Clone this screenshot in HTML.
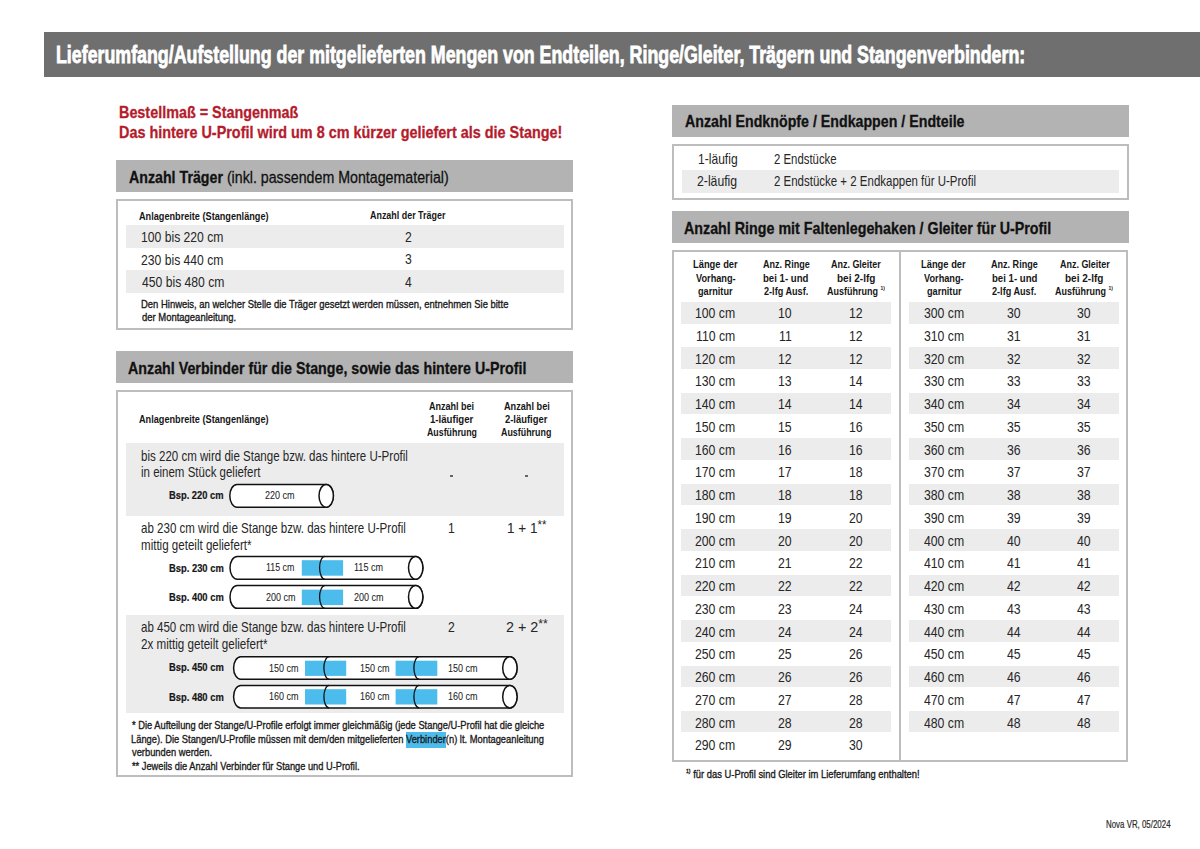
<!DOCTYPE html>
<html lang="de">
<head>
<meta charset="utf-8">
<title>Lieferumfang</title>
<style>
html,body{margin:0;padding:0;background:#ffffff;}
body{width:1200px;height:849px;position:relative;overflow:hidden;font-family:"Liberation Sans",sans-serif;}
.r{position:absolute;}
.b{position:absolute;box-sizing:border-box;border:2px solid #bdbdbd;}
.t{position:absolute;white-space:nowrap;transform-origin:0 0;}
svg{position:absolute;left:0;top:0;}
</style>
</head>
<body>
<div class="r" style="left:44.00px;top:32.00px;width:1156.00px;height:45.00px;background:#6f6f6f"></div>
<div class="r" style="left:116.00px;top:160.00px;width:456.50px;height:32.00px;background:#b3b3b3"></div>
<div class="b" style="left:115.50px;top:198.50px;width:457.00px;height:131.00px"></div>
<div class="r" style="left:126.00px;top:225.00px;width:438.00px;height:23.00px;background:#ececec"></div>
<div class="r" style="left:126.00px;top:270.30px;width:438.00px;height:22.70px;background:#ececec"></div>
<div class="r" style="left:116.00px;top:351.30px;width:456.50px;height:31.70px;background:#b3b3b3"></div>
<div class="b" style="left:115.50px;top:389.50px;width:457.00px;height:387.00px"></div>
<div class="r" style="left:125.50px;top:443.00px;width:438.20px;height:72.60px;background:#ececec"></div>
<div class="r" style="left:125.50px;top:615.00px;width:438.20px;height:98.30px;background:#ececec"></div>
<div class="r" style="left:406.00px;top:732.40px;width:39.60px;height:15.20px;background:#4bbcec"></div>
<div class="r" style="left:449.80px;top:475.40px;width:3.50px;height:1.40px;background:#666"></div>
<div class="r" style="left:524.60px;top:475.40px;width:3.50px;height:1.40px;background:#666"></div>
<div class="r" style="left:672.00px;top:104.50px;width:456.70px;height:32.10px;background:#b3b3b3"></div>
<div class="b" style="left:672.00px;top:143.50px;width:456.70px;height:56.20px"></div>
<div class="r" style="left:682.00px;top:170.00px;width:437.40px;height:22.50px;background:#ececec"></div>
<div class="r" style="left:672.00px;top:211.20px;width:456.50px;height:31.80px;background:#b3b3b3"></div>
<div class="b" style="left:672.00px;top:250.30px;width:456.30px;height:511.70px"></div>
<div class="r" style="left:899.00px;top:250.30px;width:2.00px;height:511.70px;background:#bdbdbd"></div>
<div class="r" style="left:680.60px;top:302.00px;width:210.00px;height:21.50px;background:#ececec"></div>
<div class="r" style="left:909.40px;top:302.00px;width:209.30px;height:21.50px;background:#ececec"></div>
<div class="r" style="left:680.60px;top:347.44px;width:210.00px;height:21.50px;background:#ececec"></div>
<div class="r" style="left:909.40px;top:347.44px;width:209.30px;height:21.50px;background:#ececec"></div>
<div class="r" style="left:680.60px;top:392.88px;width:210.00px;height:21.50px;background:#ececec"></div>
<div class="r" style="left:909.40px;top:392.88px;width:209.30px;height:21.50px;background:#ececec"></div>
<div class="r" style="left:680.60px;top:438.32px;width:210.00px;height:21.50px;background:#ececec"></div>
<div class="r" style="left:909.40px;top:438.32px;width:209.30px;height:21.50px;background:#ececec"></div>
<div class="r" style="left:680.60px;top:483.76px;width:210.00px;height:21.50px;background:#ececec"></div>
<div class="r" style="left:909.40px;top:483.76px;width:209.30px;height:21.50px;background:#ececec"></div>
<div class="r" style="left:680.60px;top:529.20px;width:210.00px;height:21.50px;background:#ececec"></div>
<div class="r" style="left:909.40px;top:529.20px;width:209.30px;height:21.50px;background:#ececec"></div>
<div class="r" style="left:680.60px;top:574.64px;width:210.00px;height:21.50px;background:#ececec"></div>
<div class="r" style="left:909.40px;top:574.64px;width:209.30px;height:21.50px;background:#ececec"></div>
<div class="r" style="left:680.60px;top:620.08px;width:210.00px;height:21.50px;background:#ececec"></div>
<div class="r" style="left:909.40px;top:620.08px;width:209.30px;height:21.50px;background:#ececec"></div>
<div class="r" style="left:680.60px;top:665.52px;width:210.00px;height:21.50px;background:#ececec"></div>
<div class="r" style="left:909.40px;top:665.52px;width:209.30px;height:21.50px;background:#ececec"></div>
<div class="r" style="left:680.60px;top:710.96px;width:210.00px;height:21.50px;background:#ececec"></div>
<div class="r" style="left:909.40px;top:710.96px;width:209.30px;height:21.50px;background:#ececec"></div>
<svg width="1200" height="849" viewBox="0 0 1200 849"><path d="M237.00,484.40 H326.20 A7.20,11.40 0 0 1 326.20,507.20 H237.00 A7.20,11.40 0 0 1 237.00,484.40 Z" fill="#fff" stroke="#111" stroke-width="1.50"/><ellipse cx="326.20" cy="495.80" rx="7.20" ry="11.40" fill="#fff" stroke="#111" stroke-width="1.50"/><path d="M237.20,556.40 H415.70 A7.20,11.40 0 0 1 415.70,579.20 H237.20 A7.20,11.40 0 0 1 237.20,556.40 Z" fill="#fff" stroke="#111" stroke-width="1.50"/><rect x="301.80" y="560.20" width="41.30" height="15.50" fill="#4bbcec"/><path d="M324.80,556.40 A5.20,11.40 0 0 0 324.80,579.20" fill="none" stroke="#111" stroke-width="1.30"/><ellipse cx="415.70" cy="567.80" rx="7.20" ry="11.40" fill="#fff" stroke="#111" stroke-width="1.50"/><path d="M237.20,585.60 H415.70 A7.20,11.35 0 0 1 415.70,608.30 H237.20 A7.20,11.35 0 0 1 237.20,585.60 Z" fill="#fff" stroke="#111" stroke-width="1.50"/><rect x="301.80" y="589.60" width="41.30" height="15.50" fill="#4bbcec"/><path d="M324.80,585.60 A5.20,11.35 0 0 0 324.80,608.30" fill="none" stroke="#111" stroke-width="1.30"/><ellipse cx="415.70" cy="596.95" rx="7.20" ry="11.35" fill="#fff" stroke="#111" stroke-width="1.50"/><path d="M240.80,656.70 H509.90 A7.20,11.25 0 0 1 509.90,679.20 H240.80 A7.20,11.25 0 0 1 240.80,656.70 Z" fill="#fff" stroke="#111" stroke-width="1.50"/><rect x="305.00" y="660.70" width="41.20" height="15.20" fill="#4bbcec"/><rect x="395.60" y="660.70" width="41.70" height="15.20" fill="#4bbcec"/><path d="M329.10,656.70 A5.20,11.25 0 0 0 329.10,679.20" fill="none" stroke="#111" stroke-width="1.30"/><path d="M419.10,656.70 A5.20,11.25 0 0 0 419.10,679.20" fill="none" stroke="#111" stroke-width="1.30"/><ellipse cx="509.90" cy="667.95" rx="7.20" ry="11.25" fill="#fff" stroke="#111" stroke-width="1.50"/><path d="M240.80,685.40 H509.90 A7.20,11.25 0 0 1 509.90,707.90 H240.80 A7.20,11.25 0 0 1 240.80,685.40 Z" fill="#fff" stroke="#111" stroke-width="1.50"/><rect x="305.00" y="689.20" width="41.20" height="15.30" fill="#4bbcec"/><rect x="395.60" y="689.20" width="41.70" height="15.30" fill="#4bbcec"/><path d="M329.10,685.40 A5.20,11.25 0 0 0 329.10,707.90" fill="none" stroke="#111" stroke-width="1.30"/><path d="M419.10,685.40 A5.20,11.25 0 0 0 419.10,707.90" fill="none" stroke="#111" stroke-width="1.30"/><ellipse cx="509.90" cy="696.65" rx="7.20" ry="11.25" fill="#fff" stroke="#111" stroke-width="1.50"/></svg>
<div class="t" style="left:56.27px;top:42.80px;color:#ffffff;font-size:24.50px;font-weight:700;line-height:24.50px;-webkit-text-stroke:0.80px #ffffff;transform:scaleX(0.7265)">Lieferumfang/Aufstellung der mitgelieferten Mengen von Endteilen, Ringe/Gleiter, Trägern und Stangenverbindern:</div>
<div class="t" style="left:119.45px;top:104.75px;color:#b41c2d;font-size:16.90px;font-weight:700;line-height:16.90px;-webkit-text-stroke:0.30px #b41c2d;transform:scaleX(0.8510)">Bestellmaß = Stangenmaß</div>
<div class="t" style="left:119.45px;top:125.40px;color:#b41c2d;font-size:16.90px;font-weight:700;line-height:16.90px;-webkit-text-stroke:0.30px #b41c2d;transform:scaleX(0.8527)">Das hintere U-Profil wird um 8 cm kürzer geliefert als die Stange!</div>
<div class="t" style="left:128.60px;top:170.00px;color:#111111;font-size:16.90px;font-weight:700;line-height:16.90px;-webkit-text-stroke:0.30px #111111;transform:scaleX(0.8409)">Anzahl Träger<span style="font-weight:400"> (inkl. passendem Montagematerial)</span></div>
<div class="t" style="left:139.20px;top:210.50px;color:#161616;font-size:11.20px;font-weight:700;line-height:11.20px;transform:scaleX(0.8171)">Anlagenbreite (Stangenlänge)</div>
<div class="t" style="left:370.10px;top:210.20px;color:#161616;font-size:11.20px;font-weight:700;line-height:11.20px;transform:scaleX(0.7979)">Anzahl der Träger</div>
<div class="t" style="left:141.16px;top:229.70px;color:#262626;font-size:14.50px;font-weight:400;line-height:14.50px;transform:scaleX(0.8385)">100 bis 220 cm</div>
<div class="t" style="left:141.16px;top:252.60px;color:#262626;font-size:14.50px;font-weight:400;line-height:14.50px;transform:scaleX(0.8385)">230 bis 440 cm</div>
<div class="t" style="left:142.00px;top:275.40px;color:#262626;font-size:14.50px;font-weight:400;line-height:14.50px;transform:scaleX(0.8385)">450 bis 480 cm</div>
<div class="t" style="left:404.85px;top:229.60px;color:#262626;font-size:14.50px;font-weight:400;line-height:14.50px;transform:scaleX(0.8385)">2</div>
<div class="t" style="left:404.85px;top:252.40px;color:#262626;font-size:14.50px;font-weight:400;line-height:14.50px;transform:scaleX(0.8385)">3</div>
<div class="t" style="left:404.85px;top:275.20px;color:#262626;font-size:14.50px;font-weight:400;line-height:14.50px;transform:scaleX(0.8385)">4</div>
<div class="t" style="left:141.16px;top:298.50px;color:#1a1a1a;font-size:11.30px;font-weight:400;line-height:11.30px;-webkit-text-stroke:0.35px #1a1a1a;transform:scaleX(0.8370)">Den Hinweis, an welcher Stelle die Träger gesetzt werden müssen, entnehmen Sie bitte</div>
<div class="t" style="left:142.00px;top:311.80px;color:#1a1a1a;font-size:11.30px;font-weight:400;line-height:11.30px;-webkit-text-stroke:0.35px #1a1a1a;transform:scaleX(0.8375)">der Montageanleitung.</div>
<div class="t" style="left:128.30px;top:360.60px;color:#111111;font-size:16.90px;font-weight:700;line-height:16.90px;-webkit-text-stroke:0.30px #111111;transform:scaleX(0.8439)">Anzahl Verbinder für die Stange, sowie das hintere U-Profil</div>
<div class="t" style="left:139.30px;top:414.40px;color:#161616;font-size:11.20px;font-weight:700;line-height:11.20px;transform:scaleX(0.8171)">Anlagenbreite (Stangenlänge)</div>
<div class="t" style="left:429.40px;top:400.75px;color:#161616;font-size:11.20px;font-weight:700;line-height:11.20px;transform:scaleX(0.8064)">Anzahl bei</div>
<div class="t" style="left:429.74px;top:414.10px;color:#161616;font-size:11.20px;font-weight:700;line-height:11.20px;transform:scaleX(0.8602)">1-läufiger</div>
<div class="t" style="left:426.90px;top:427.25px;color:#161616;font-size:11.20px;font-weight:700;line-height:11.20px;transform:scaleX(0.7889)">Ausführung</div>
<div class="t" style="left:503.50px;top:400.75px;color:#161616;font-size:11.20px;font-weight:700;line-height:11.20px;transform:scaleX(0.8182)">Anzahl bei</div>
<div class="t" style="left:505.00px;top:414.10px;color:#161616;font-size:11.20px;font-weight:700;line-height:11.20px;transform:scaleX(0.8400)">2-läufiger</div>
<div class="t" style="left:501.00px;top:427.25px;color:#161616;font-size:11.20px;font-weight:700;line-height:11.20px;transform:scaleX(0.7937)">Ausführung</div>
<div class="t" style="left:140.80px;top:448.50px;color:#262626;font-size:14.50px;font-weight:400;line-height:14.50px;transform:scaleX(0.7961)">bis 220 cm wird die Stange bzw. das hintere U-Profil</div>
<div class="t" style="left:140.81px;top:465.30px;color:#262626;font-size:14.50px;font-weight:400;line-height:14.50px;transform:scaleX(0.7927)">in einem Stück geliefert</div>
<div class="t" style="left:169.36px;top:490.30px;color:#161616;font-size:11.20px;font-weight:700;line-height:11.20px;-webkit-text-stroke:0.20px #161616;transform:scaleX(0.8359)">Bsp. 220 cm</div>
<div class="t" style="left:264.82px;top:490.80px;color:#222222;font-size:10.20px;font-weight:400;line-height:10.20px;-webkit-text-stroke:0.05px #222222;transform:scaleX(0.8844)">220 cm</div>
<div class="t" style="left:140.80px;top:521.20px;color:#262626;font-size:14.50px;font-weight:400;line-height:14.50px;transform:scaleX(0.7958)">ab 230 cm wird die Stange bzw. das hintere U-Profil</div>
<div class="t" style="left:140.80px;top:538.00px;color:#262626;font-size:14.50px;font-weight:400;line-height:14.50px;transform:scaleX(0.7971)">mittig geteilt geliefert*</div>
<div class="t" style="left:447.95px;top:520.80px;color:#262626;font-size:14.50px;font-weight:400;line-height:14.50px;transform:scaleX(0.8385)">1</div>
<div class="t" style="left:506.57px;top:520.80px;color:#262626;font-size:14.50px;font-weight:400;line-height:14.50px;transform:scaleX(0.9325)">1 + 1<span style="font-size:85%;position:relative;top:-4px">**</span></div>
<div class="t" style="left:169.41px;top:562.60px;color:#161616;font-size:11.20px;font-weight:700;line-height:11.20px;-webkit-text-stroke:0.20px #161616;transform:scaleX(0.8383)">Bsp. 230 cm</div>
<div class="t" style="left:266.03px;top:563.35px;color:#222222;font-size:10.20px;font-weight:400;line-height:10.20px;-webkit-text-stroke:0.05px #222222;transform:scaleX(0.8710)">115 cm</div>
<div class="t" style="left:353.91px;top:563.35px;color:#222222;font-size:10.20px;font-weight:400;line-height:10.20px;-webkit-text-stroke:0.05px #222222;transform:scaleX(0.8903)">115 cm</div>
<div class="t" style="left:169.41px;top:592.30px;color:#161616;font-size:11.20px;font-weight:700;line-height:11.20px;-webkit-text-stroke:0.20px #161616;transform:scaleX(0.8383)">Bsp. 400 cm</div>
<div class="t" style="left:265.62px;top:592.75px;color:#222222;font-size:10.20px;font-weight:400;line-height:10.20px;-webkit-text-stroke:0.05px #222222;transform:scaleX(0.8844)">200 cm</div>
<div class="t" style="left:353.72px;top:592.75px;color:#222222;font-size:10.20px;font-weight:400;line-height:10.20px;-webkit-text-stroke:0.05px #222222;transform:scaleX(0.8844)">200 cm</div>
<div class="t" style="left:140.90px;top:619.70px;color:#262626;font-size:14.50px;font-weight:400;line-height:14.50px;transform:scaleX(0.7955)">ab 450 cm wird die Stange bzw. das hintere U-Profil</div>
<div class="t" style="left:140.90px;top:637.30px;color:#262626;font-size:14.50px;font-weight:400;line-height:14.50px;transform:scaleX(0.8013)">2x mittig geteilt geliefert*</div>
<div class="t" style="left:448.15px;top:619.70px;color:#262626;font-size:14.50px;font-weight:400;line-height:14.50px;transform:scaleX(0.8385)">2</div>
<div class="t" style="left:506.01px;top:619.70px;color:#262626;font-size:14.50px;font-weight:400;line-height:14.50px;transform:scaleX(0.9875)">2 + 2<span style="font-size:85%;position:relative;top:-4px">**</span></div>
<div class="t" style="left:169.41px;top:662.20px;color:#161616;font-size:11.20px;font-weight:700;line-height:11.20px;-webkit-text-stroke:0.20px #161616;transform:scaleX(0.8383)">Bsp. 450 cm</div>
<div class="t" style="left:169.41px;top:692.30px;color:#161616;font-size:11.20px;font-weight:700;line-height:11.20px;-webkit-text-stroke:0.20px #161616;transform:scaleX(0.8383)">Bsp. 480 cm</div>
<div class="t" style="left:269.12px;top:663.60px;color:#222222;font-size:10.20px;font-weight:400;line-height:10.20px;-webkit-text-stroke:0.05px #222222;transform:scaleX(0.8844)">150 cm</div>
<div class="t" style="left:269.12px;top:692.30px;color:#222222;font-size:10.20px;font-weight:400;line-height:10.20px;-webkit-text-stroke:0.05px #222222;transform:scaleX(0.8844)">160 cm</div>
<div class="t" style="left:359.52px;top:663.60px;color:#222222;font-size:10.20px;font-weight:400;line-height:10.20px;-webkit-text-stroke:0.05px #222222;transform:scaleX(0.8844)">150 cm</div>
<div class="t" style="left:359.52px;top:692.30px;color:#222222;font-size:10.20px;font-weight:400;line-height:10.20px;-webkit-text-stroke:0.05px #222222;transform:scaleX(0.8844)">160 cm</div>
<div class="t" style="left:448.12px;top:663.60px;color:#222222;font-size:10.20px;font-weight:400;line-height:10.20px;-webkit-text-stroke:0.05px #222222;transform:scaleX(0.8844)">150 cm</div>
<div class="t" style="left:448.12px;top:692.30px;color:#222222;font-size:10.20px;font-weight:400;line-height:10.20px;-webkit-text-stroke:0.05px #222222;transform:scaleX(0.8844)">160 cm</div>
<div class="t" style="left:131.60px;top:720.00px;color:#1a1a1a;font-size:11.30px;font-weight:400;line-height:11.30px;-webkit-text-stroke:0.35px #1a1a1a;transform:scaleX(0.8248)">* Die Aufteilung der Stange/U-Profile erfolgt immer gleichmäßig (jede Stange/U-Profil hat die gleiche</div>
<div class="t" style="left:130.77px;top:733.60px;color:#1a1a1a;font-size:11.30px;font-weight:400;line-height:11.30px;-webkit-text-stroke:0.35px #1a1a1a;transform:scaleX(0.8261)">Länge). Die Stangen/U-Profile müssen mit dem/den mitgelieferten Verbinder(n) lt. Montageanleitung</div>
<div class="t" style="left:131.60px;top:747.00px;color:#1a1a1a;font-size:11.30px;font-weight:400;line-height:11.30px;-webkit-text-stroke:0.35px #1a1a1a;transform:scaleX(0.8271)">verbunden werden.</div>
<div class="t" style="left:131.60px;top:760.60px;color:#1a1a1a;font-size:11.30px;font-weight:400;line-height:11.30px;-webkit-text-stroke:0.35px #1a1a1a;transform:scaleX(0.8217)">** Jeweils die Anzahl Verbinder für Stange und U-Profil.</div>
<div class="t" style="left:684.70px;top:114.00px;color:#111111;font-size:16.90px;font-weight:700;line-height:16.90px;-webkit-text-stroke:0.30px #111111;transform:scaleX(0.8413)">Anzahl Endknöpfe / Endkappen / Endteile</div>
<div class="t" style="left:697.91px;top:152.25px;color:#262626;font-size:14.30px;font-weight:400;line-height:14.30px;transform:scaleX(0.8444)">1-läufig</div>
<div class="t" style="left:774.20px;top:152.25px;color:#262626;font-size:14.30px;font-weight:400;line-height:14.30px;transform:scaleX(0.7955)">2 Endstücke</div>
<div class="t" style="left:697.39px;top:174.25px;color:#262626;font-size:14.30px;font-weight:400;line-height:14.30px;transform:scaleX(0.8556)">2-läufig</div>
<div class="t" style="left:774.20px;top:174.25px;color:#262626;font-size:14.30px;font-weight:400;line-height:14.30px;transform:scaleX(0.8030)">2 Endstücke + 2 Endkappen für U-Profil</div>
<div class="t" style="left:684.40px;top:221.00px;color:#111111;font-size:16.90px;font-weight:700;line-height:16.90px;-webkit-text-stroke:0.30px #111111;transform:scaleX(0.8452)">Anzahl Ringe mit Faltenlegehaken / Gleiter für U-Profil</div>
<div class="t" style="left:692.91px;top:259.30px;color:#161616;font-size:11.20px;font-weight:700;line-height:11.20px;transform:scaleX(0.8356)">Länge der</div>
<div class="t" style="left:695.60px;top:272.50px;color:#161616;font-size:11.20px;font-weight:700;line-height:11.20px;transform:scaleX(0.8208)">Vorhang-</div>
<div class="t" style="left:698.48px;top:286.00px;color:#161616;font-size:11.20px;font-weight:700;line-height:11.20px;transform:scaleX(0.8171)">garnitur</div>
<div class="t" style="left:762.90px;top:259.30px;color:#161616;font-size:11.20px;font-weight:700;line-height:11.20px;transform:scaleX(0.8088)">Anz. Ringe</div>
<div class="t" style="left:763.14px;top:272.50px;color:#161616;font-size:11.20px;font-weight:700;line-height:11.20px;transform:scaleX(0.8588)">bei 1- und</div>
<div class="t" style="left:763.50px;top:286.00px;color:#161616;font-size:11.20px;font-weight:700;line-height:11.20px;transform:scaleX(0.8148)">2-lfg Ausf.</div>
<div class="t" style="left:831.40px;top:259.30px;color:#161616;font-size:11.20px;font-weight:700;line-height:11.20px;transform:scaleX(0.8000)">Anz. Gleiter</div>
<div class="t" style="left:836.90px;top:272.50px;color:#161616;font-size:11.20px;font-weight:700;line-height:11.20px;transform:scaleX(0.8951)">bei 2-lfg</div>
<div class="t" style="left:826.70px;top:286.00px;color:#161616;font-size:11.20px;font-weight:700;line-height:11.20px;transform:scaleX(0.8028)">Ausführung <span style="font-size:55%;position:relative;top:-5px">1)</span></div>
<div class="t" style="left:921.41px;top:259.30px;color:#161616;font-size:11.20px;font-weight:700;line-height:11.20px;transform:scaleX(0.8356)">Länge der</div>
<div class="t" style="left:924.10px;top:272.50px;color:#161616;font-size:11.20px;font-weight:700;line-height:11.20px;transform:scaleX(0.8208)">Vorhang-</div>
<div class="t" style="left:926.98px;top:286.00px;color:#161616;font-size:11.20px;font-weight:700;line-height:11.20px;transform:scaleX(0.8171)">garnitur</div>
<div class="t" style="left:991.40px;top:259.30px;color:#161616;font-size:11.20px;font-weight:700;line-height:11.20px;transform:scaleX(0.8088)">Anz. Ringe</div>
<div class="t" style="left:991.64px;top:272.50px;color:#161616;font-size:11.20px;font-weight:700;line-height:11.20px;transform:scaleX(0.8588)">bei 1- und</div>
<div class="t" style="left:992.00px;top:286.00px;color:#161616;font-size:11.20px;font-weight:700;line-height:11.20px;transform:scaleX(0.8148)">2-lfg Ausf.</div>
<div class="t" style="left:1059.90px;top:259.30px;color:#161616;font-size:11.20px;font-weight:700;line-height:11.20px;transform:scaleX(0.8000)">Anz. Gleiter</div>
<div class="t" style="left:1065.40px;top:272.50px;color:#161616;font-size:11.20px;font-weight:700;line-height:11.20px;transform:scaleX(0.8951)">bei 2-lfg</div>
<div class="t" style="left:1055.20px;top:286.00px;color:#161616;font-size:11.20px;font-weight:700;line-height:11.20px;transform:scaleX(0.8028)">Ausführung <span style="font-size:55%;position:relative;top:-5px">1)</span></div>
<div class="t" style="left:695.47px;top:306.00px;color:#262626;font-size:14.80px;font-weight:400;line-height:14.80px;transform:scaleX(0.8277)">100 cm</div>
<div class="t" style="left:778.46px;top:306.00px;color:#262626;font-size:14.80px;font-weight:400;line-height:14.80px;transform:scaleX(0.8277)">10</div>
<div class="t" style="left:848.56px;top:306.00px;color:#262626;font-size:14.80px;font-weight:400;line-height:14.80px;transform:scaleX(0.8277)">12</div>
<div class="t" style="left:696.15px;top:328.76px;color:#262626;font-size:14.80px;font-weight:400;line-height:14.80px;transform:scaleX(0.8277)">110 cm</div>
<div class="t" style="left:778.88px;top:328.76px;color:#262626;font-size:14.80px;font-weight:400;line-height:14.80px;transform:scaleX(0.8277)">11</div>
<div class="t" style="left:848.56px;top:328.76px;color:#262626;font-size:14.80px;font-weight:400;line-height:14.80px;transform:scaleX(0.8277)">12</div>
<div class="t" style="left:695.32px;top:351.52px;color:#262626;font-size:14.80px;font-weight:400;line-height:14.80px;transform:scaleX(0.8277)">120 cm</div>
<div class="t" style="left:778.46px;top:351.52px;color:#262626;font-size:14.80px;font-weight:400;line-height:14.80px;transform:scaleX(0.8277)">12</div>
<div class="t" style="left:848.56px;top:351.52px;color:#262626;font-size:14.80px;font-weight:400;line-height:14.80px;transform:scaleX(0.8277)">12</div>
<div class="t" style="left:695.32px;top:374.28px;color:#262626;font-size:14.80px;font-weight:400;line-height:14.80px;transform:scaleX(0.8277)">130 cm</div>
<div class="t" style="left:778.46px;top:374.28px;color:#262626;font-size:14.80px;font-weight:400;line-height:14.80px;transform:scaleX(0.8277)">13</div>
<div class="t" style="left:848.56px;top:374.28px;color:#262626;font-size:14.80px;font-weight:400;line-height:14.80px;transform:scaleX(0.8277)">14</div>
<div class="t" style="left:695.32px;top:397.04px;color:#262626;font-size:14.80px;font-weight:400;line-height:14.80px;transform:scaleX(0.8277)">140 cm</div>
<div class="t" style="left:778.46px;top:397.04px;color:#262626;font-size:14.80px;font-weight:400;line-height:14.80px;transform:scaleX(0.8277)">14</div>
<div class="t" style="left:848.56px;top:397.04px;color:#262626;font-size:14.80px;font-weight:400;line-height:14.80px;transform:scaleX(0.8277)">14</div>
<div class="t" style="left:695.32px;top:419.80px;color:#262626;font-size:14.80px;font-weight:400;line-height:14.80px;transform:scaleX(0.8277)">150 cm</div>
<div class="t" style="left:778.46px;top:419.80px;color:#262626;font-size:14.80px;font-weight:400;line-height:14.80px;transform:scaleX(0.8277)">15</div>
<div class="t" style="left:848.56px;top:419.80px;color:#262626;font-size:14.80px;font-weight:400;line-height:14.80px;transform:scaleX(0.8277)">16</div>
<div class="t" style="left:695.32px;top:442.56px;color:#262626;font-size:14.80px;font-weight:400;line-height:14.80px;transform:scaleX(0.8277)">160 cm</div>
<div class="t" style="left:778.46px;top:442.56px;color:#262626;font-size:14.80px;font-weight:400;line-height:14.80px;transform:scaleX(0.8277)">16</div>
<div class="t" style="left:848.56px;top:442.56px;color:#262626;font-size:14.80px;font-weight:400;line-height:14.80px;transform:scaleX(0.8277)">16</div>
<div class="t" style="left:695.32px;top:465.32px;color:#262626;font-size:14.80px;font-weight:400;line-height:14.80px;transform:scaleX(0.8277)">170 cm</div>
<div class="t" style="left:778.46px;top:465.32px;color:#262626;font-size:14.80px;font-weight:400;line-height:14.80px;transform:scaleX(0.8277)">17</div>
<div class="t" style="left:848.56px;top:465.32px;color:#262626;font-size:14.80px;font-weight:400;line-height:14.80px;transform:scaleX(0.8277)">18</div>
<div class="t" style="left:695.32px;top:488.08px;color:#262626;font-size:14.80px;font-weight:400;line-height:14.80px;transform:scaleX(0.8277)">180 cm</div>
<div class="t" style="left:778.46px;top:488.08px;color:#262626;font-size:14.80px;font-weight:400;line-height:14.80px;transform:scaleX(0.8277)">18</div>
<div class="t" style="left:848.56px;top:488.08px;color:#262626;font-size:14.80px;font-weight:400;line-height:14.80px;transform:scaleX(0.8277)">18</div>
<div class="t" style="left:695.32px;top:510.84px;color:#262626;font-size:14.80px;font-weight:400;line-height:14.80px;transform:scaleX(0.8277)">190 cm</div>
<div class="t" style="left:778.46px;top:510.84px;color:#262626;font-size:14.80px;font-weight:400;line-height:14.80px;transform:scaleX(0.8277)">19</div>
<div class="t" style="left:848.56px;top:510.84px;color:#262626;font-size:14.80px;font-weight:400;line-height:14.80px;transform:scaleX(0.8277)">20</div>
<div class="t" style="left:695.32px;top:533.60px;color:#262626;font-size:14.80px;font-weight:400;line-height:14.80px;transform:scaleX(0.8277)">200 cm</div>
<div class="t" style="left:778.46px;top:533.60px;color:#262626;font-size:14.80px;font-weight:400;line-height:14.80px;transform:scaleX(0.8277)">20</div>
<div class="t" style="left:848.56px;top:533.60px;color:#262626;font-size:14.80px;font-weight:400;line-height:14.80px;transform:scaleX(0.8277)">20</div>
<div class="t" style="left:695.32px;top:556.36px;color:#262626;font-size:14.80px;font-weight:400;line-height:14.80px;transform:scaleX(0.8277)">210 cm</div>
<div class="t" style="left:778.46px;top:556.36px;color:#262626;font-size:14.80px;font-weight:400;line-height:14.80px;transform:scaleX(0.8277)">21</div>
<div class="t" style="left:848.56px;top:556.36px;color:#262626;font-size:14.80px;font-weight:400;line-height:14.80px;transform:scaleX(0.8277)">22</div>
<div class="t" style="left:695.32px;top:579.12px;color:#262626;font-size:14.80px;font-weight:400;line-height:14.80px;transform:scaleX(0.8277)">220 cm</div>
<div class="t" style="left:778.46px;top:579.12px;color:#262626;font-size:14.80px;font-weight:400;line-height:14.80px;transform:scaleX(0.8277)">22</div>
<div class="t" style="left:848.56px;top:579.12px;color:#262626;font-size:14.80px;font-weight:400;line-height:14.80px;transform:scaleX(0.8277)">22</div>
<div class="t" style="left:695.32px;top:601.88px;color:#262626;font-size:14.80px;font-weight:400;line-height:14.80px;transform:scaleX(0.8277)">230 cm</div>
<div class="t" style="left:778.46px;top:601.88px;color:#262626;font-size:14.80px;font-weight:400;line-height:14.80px;transform:scaleX(0.8277)">23</div>
<div class="t" style="left:848.56px;top:601.88px;color:#262626;font-size:14.80px;font-weight:400;line-height:14.80px;transform:scaleX(0.8277)">24</div>
<div class="t" style="left:695.32px;top:624.64px;color:#262626;font-size:14.80px;font-weight:400;line-height:14.80px;transform:scaleX(0.8277)">240 cm</div>
<div class="t" style="left:778.46px;top:624.64px;color:#262626;font-size:14.80px;font-weight:400;line-height:14.80px;transform:scaleX(0.8277)">24</div>
<div class="t" style="left:848.56px;top:624.64px;color:#262626;font-size:14.80px;font-weight:400;line-height:14.80px;transform:scaleX(0.8277)">24</div>
<div class="t" style="left:695.32px;top:647.40px;color:#262626;font-size:14.80px;font-weight:400;line-height:14.80px;transform:scaleX(0.8277)">250 cm</div>
<div class="t" style="left:778.46px;top:647.40px;color:#262626;font-size:14.80px;font-weight:400;line-height:14.80px;transform:scaleX(0.8277)">25</div>
<div class="t" style="left:848.56px;top:647.40px;color:#262626;font-size:14.80px;font-weight:400;line-height:14.80px;transform:scaleX(0.8277)">26</div>
<div class="t" style="left:695.32px;top:670.16px;color:#262626;font-size:14.80px;font-weight:400;line-height:14.80px;transform:scaleX(0.8277)">260 cm</div>
<div class="t" style="left:778.46px;top:670.16px;color:#262626;font-size:14.80px;font-weight:400;line-height:14.80px;transform:scaleX(0.8277)">26</div>
<div class="t" style="left:848.56px;top:670.16px;color:#262626;font-size:14.80px;font-weight:400;line-height:14.80px;transform:scaleX(0.8277)">26</div>
<div class="t" style="left:695.32px;top:692.92px;color:#262626;font-size:14.80px;font-weight:400;line-height:14.80px;transform:scaleX(0.8277)">270 cm</div>
<div class="t" style="left:778.46px;top:692.92px;color:#262626;font-size:14.80px;font-weight:400;line-height:14.80px;transform:scaleX(0.8277)">27</div>
<div class="t" style="left:848.56px;top:692.92px;color:#262626;font-size:14.80px;font-weight:400;line-height:14.80px;transform:scaleX(0.8277)">28</div>
<div class="t" style="left:695.32px;top:715.68px;color:#262626;font-size:14.80px;font-weight:400;line-height:14.80px;transform:scaleX(0.8277)">280 cm</div>
<div class="t" style="left:778.46px;top:715.68px;color:#262626;font-size:14.80px;font-weight:400;line-height:14.80px;transform:scaleX(0.8277)">28</div>
<div class="t" style="left:848.56px;top:715.68px;color:#262626;font-size:14.80px;font-weight:400;line-height:14.80px;transform:scaleX(0.8277)">28</div>
<div class="t" style="left:695.32px;top:738.44px;color:#262626;font-size:14.80px;font-weight:400;line-height:14.80px;transform:scaleX(0.8277)">290 cm</div>
<div class="t" style="left:778.46px;top:738.44px;color:#262626;font-size:14.80px;font-weight:400;line-height:14.80px;transform:scaleX(0.8277)">29</div>
<div class="t" style="left:848.56px;top:738.44px;color:#262626;font-size:14.80px;font-weight:400;line-height:14.80px;transform:scaleX(0.8277)">30</div>
<div class="t" style="left:923.82px;top:306.00px;color:#262626;font-size:14.80px;font-weight:400;line-height:14.80px;transform:scaleX(0.8277)">300 cm</div>
<div class="t" style="left:1006.96px;top:306.00px;color:#262626;font-size:14.80px;font-weight:400;line-height:14.80px;transform:scaleX(0.8277)">30</div>
<div class="t" style="left:1076.96px;top:306.00px;color:#262626;font-size:14.80px;font-weight:400;line-height:14.80px;transform:scaleX(0.8277)">30</div>
<div class="t" style="left:923.82px;top:328.76px;color:#262626;font-size:14.80px;font-weight:400;line-height:14.80px;transform:scaleX(0.8277)">310 cm</div>
<div class="t" style="left:1006.96px;top:328.76px;color:#262626;font-size:14.80px;font-weight:400;line-height:14.80px;transform:scaleX(0.8277)">31</div>
<div class="t" style="left:1076.96px;top:328.76px;color:#262626;font-size:14.80px;font-weight:400;line-height:14.80px;transform:scaleX(0.8277)">31</div>
<div class="t" style="left:923.82px;top:351.52px;color:#262626;font-size:14.80px;font-weight:400;line-height:14.80px;transform:scaleX(0.8277)">320 cm</div>
<div class="t" style="left:1006.96px;top:351.52px;color:#262626;font-size:14.80px;font-weight:400;line-height:14.80px;transform:scaleX(0.8277)">32</div>
<div class="t" style="left:1076.96px;top:351.52px;color:#262626;font-size:14.80px;font-weight:400;line-height:14.80px;transform:scaleX(0.8277)">32</div>
<div class="t" style="left:923.82px;top:374.28px;color:#262626;font-size:14.80px;font-weight:400;line-height:14.80px;transform:scaleX(0.8277)">330 cm</div>
<div class="t" style="left:1006.96px;top:374.28px;color:#262626;font-size:14.80px;font-weight:400;line-height:14.80px;transform:scaleX(0.8277)">33</div>
<div class="t" style="left:1076.96px;top:374.28px;color:#262626;font-size:14.80px;font-weight:400;line-height:14.80px;transform:scaleX(0.8277)">33</div>
<div class="t" style="left:923.82px;top:397.04px;color:#262626;font-size:14.80px;font-weight:400;line-height:14.80px;transform:scaleX(0.8277)">340 cm</div>
<div class="t" style="left:1006.96px;top:397.04px;color:#262626;font-size:14.80px;font-weight:400;line-height:14.80px;transform:scaleX(0.8277)">34</div>
<div class="t" style="left:1076.96px;top:397.04px;color:#262626;font-size:14.80px;font-weight:400;line-height:14.80px;transform:scaleX(0.8277)">34</div>
<div class="t" style="left:923.82px;top:419.80px;color:#262626;font-size:14.80px;font-weight:400;line-height:14.80px;transform:scaleX(0.8277)">350 cm</div>
<div class="t" style="left:1006.96px;top:419.80px;color:#262626;font-size:14.80px;font-weight:400;line-height:14.80px;transform:scaleX(0.8277)">35</div>
<div class="t" style="left:1076.96px;top:419.80px;color:#262626;font-size:14.80px;font-weight:400;line-height:14.80px;transform:scaleX(0.8277)">35</div>
<div class="t" style="left:923.82px;top:442.56px;color:#262626;font-size:14.80px;font-weight:400;line-height:14.80px;transform:scaleX(0.8277)">360 cm</div>
<div class="t" style="left:1006.96px;top:442.56px;color:#262626;font-size:14.80px;font-weight:400;line-height:14.80px;transform:scaleX(0.8277)">36</div>
<div class="t" style="left:1076.96px;top:442.56px;color:#262626;font-size:14.80px;font-weight:400;line-height:14.80px;transform:scaleX(0.8277)">36</div>
<div class="t" style="left:923.82px;top:465.32px;color:#262626;font-size:14.80px;font-weight:400;line-height:14.80px;transform:scaleX(0.8277)">370 cm</div>
<div class="t" style="left:1006.96px;top:465.32px;color:#262626;font-size:14.80px;font-weight:400;line-height:14.80px;transform:scaleX(0.8277)">37</div>
<div class="t" style="left:1076.96px;top:465.32px;color:#262626;font-size:14.80px;font-weight:400;line-height:14.80px;transform:scaleX(0.8277)">37</div>
<div class="t" style="left:923.82px;top:488.08px;color:#262626;font-size:14.80px;font-weight:400;line-height:14.80px;transform:scaleX(0.8277)">380 cm</div>
<div class="t" style="left:1006.96px;top:488.08px;color:#262626;font-size:14.80px;font-weight:400;line-height:14.80px;transform:scaleX(0.8277)">38</div>
<div class="t" style="left:1076.96px;top:488.08px;color:#262626;font-size:14.80px;font-weight:400;line-height:14.80px;transform:scaleX(0.8277)">38</div>
<div class="t" style="left:923.82px;top:510.84px;color:#262626;font-size:14.80px;font-weight:400;line-height:14.80px;transform:scaleX(0.8277)">390 cm</div>
<div class="t" style="left:1006.96px;top:510.84px;color:#262626;font-size:14.80px;font-weight:400;line-height:14.80px;transform:scaleX(0.8277)">39</div>
<div class="t" style="left:1076.96px;top:510.84px;color:#262626;font-size:14.80px;font-weight:400;line-height:14.80px;transform:scaleX(0.8277)">39</div>
<div class="t" style="left:924.24px;top:533.60px;color:#262626;font-size:14.80px;font-weight:400;line-height:14.80px;transform:scaleX(0.8277)">400 cm</div>
<div class="t" style="left:1007.38px;top:533.60px;color:#262626;font-size:14.80px;font-weight:400;line-height:14.80px;transform:scaleX(0.8277)">40</div>
<div class="t" style="left:1077.38px;top:533.60px;color:#262626;font-size:14.80px;font-weight:400;line-height:14.80px;transform:scaleX(0.8277)">40</div>
<div class="t" style="left:924.24px;top:556.36px;color:#262626;font-size:14.80px;font-weight:400;line-height:14.80px;transform:scaleX(0.8277)">410 cm</div>
<div class="t" style="left:1007.38px;top:556.36px;color:#262626;font-size:14.80px;font-weight:400;line-height:14.80px;transform:scaleX(0.8277)">41</div>
<div class="t" style="left:1077.38px;top:556.36px;color:#262626;font-size:14.80px;font-weight:400;line-height:14.80px;transform:scaleX(0.8277)">41</div>
<div class="t" style="left:924.24px;top:579.12px;color:#262626;font-size:14.80px;font-weight:400;line-height:14.80px;transform:scaleX(0.8277)">420 cm</div>
<div class="t" style="left:1007.38px;top:579.12px;color:#262626;font-size:14.80px;font-weight:400;line-height:14.80px;transform:scaleX(0.8277)">42</div>
<div class="t" style="left:1077.38px;top:579.12px;color:#262626;font-size:14.80px;font-weight:400;line-height:14.80px;transform:scaleX(0.8277)">42</div>
<div class="t" style="left:924.24px;top:601.88px;color:#262626;font-size:14.80px;font-weight:400;line-height:14.80px;transform:scaleX(0.8277)">430 cm</div>
<div class="t" style="left:1007.38px;top:601.88px;color:#262626;font-size:14.80px;font-weight:400;line-height:14.80px;transform:scaleX(0.8277)">43</div>
<div class="t" style="left:1077.38px;top:601.88px;color:#262626;font-size:14.80px;font-weight:400;line-height:14.80px;transform:scaleX(0.8277)">43</div>
<div class="t" style="left:924.24px;top:624.64px;color:#262626;font-size:14.80px;font-weight:400;line-height:14.80px;transform:scaleX(0.8277)">440 cm</div>
<div class="t" style="left:1007.38px;top:624.64px;color:#262626;font-size:14.80px;font-weight:400;line-height:14.80px;transform:scaleX(0.8277)">44</div>
<div class="t" style="left:1077.38px;top:624.64px;color:#262626;font-size:14.80px;font-weight:400;line-height:14.80px;transform:scaleX(0.8277)">44</div>
<div class="t" style="left:924.24px;top:647.40px;color:#262626;font-size:14.80px;font-weight:400;line-height:14.80px;transform:scaleX(0.8277)">450 cm</div>
<div class="t" style="left:1007.38px;top:647.40px;color:#262626;font-size:14.80px;font-weight:400;line-height:14.80px;transform:scaleX(0.8277)">45</div>
<div class="t" style="left:1077.38px;top:647.40px;color:#262626;font-size:14.80px;font-weight:400;line-height:14.80px;transform:scaleX(0.8277)">45</div>
<div class="t" style="left:924.24px;top:670.16px;color:#262626;font-size:14.80px;font-weight:400;line-height:14.80px;transform:scaleX(0.8277)">460 cm</div>
<div class="t" style="left:1007.38px;top:670.16px;color:#262626;font-size:14.80px;font-weight:400;line-height:14.80px;transform:scaleX(0.8277)">46</div>
<div class="t" style="left:1077.38px;top:670.16px;color:#262626;font-size:14.80px;font-weight:400;line-height:14.80px;transform:scaleX(0.8277)">46</div>
<div class="t" style="left:924.24px;top:692.92px;color:#262626;font-size:14.80px;font-weight:400;line-height:14.80px;transform:scaleX(0.8277)">470 cm</div>
<div class="t" style="left:1007.38px;top:692.92px;color:#262626;font-size:14.80px;font-weight:400;line-height:14.80px;transform:scaleX(0.8277)">47</div>
<div class="t" style="left:1077.38px;top:692.92px;color:#262626;font-size:14.80px;font-weight:400;line-height:14.80px;transform:scaleX(0.8277)">47</div>
<div class="t" style="left:924.24px;top:715.68px;color:#262626;font-size:14.80px;font-weight:400;line-height:14.80px;transform:scaleX(0.8277)">480 cm</div>
<div class="t" style="left:1007.38px;top:715.68px;color:#262626;font-size:14.80px;font-weight:400;line-height:14.80px;transform:scaleX(0.8277)">48</div>
<div class="t" style="left:1077.38px;top:715.68px;color:#262626;font-size:14.80px;font-weight:400;line-height:14.80px;transform:scaleX(0.8277)">48</div>
<div class="t" style="left:685.87px;top:768.70px;color:#1a1a1a;font-size:11.30px;font-weight:400;line-height:11.30px;-webkit-text-stroke:0.35px #1a1a1a;transform:scaleX(0.8308)"><span style="font-size:55%;position:relative;top:-5px">1)</span> für das U-Profil sind Gleiter im Lieferumfang enthalten!</div>
<div class="t" style="left:1105.95px;top:819.30px;color:#2a2a2a;font-size:10.60px;font-weight:400;line-height:10.60px;-webkit-text-stroke:0.20px #2a2a2a;transform:scaleX(0.7453)">Nova VR, 05/2024</div>
</body>
</html>
